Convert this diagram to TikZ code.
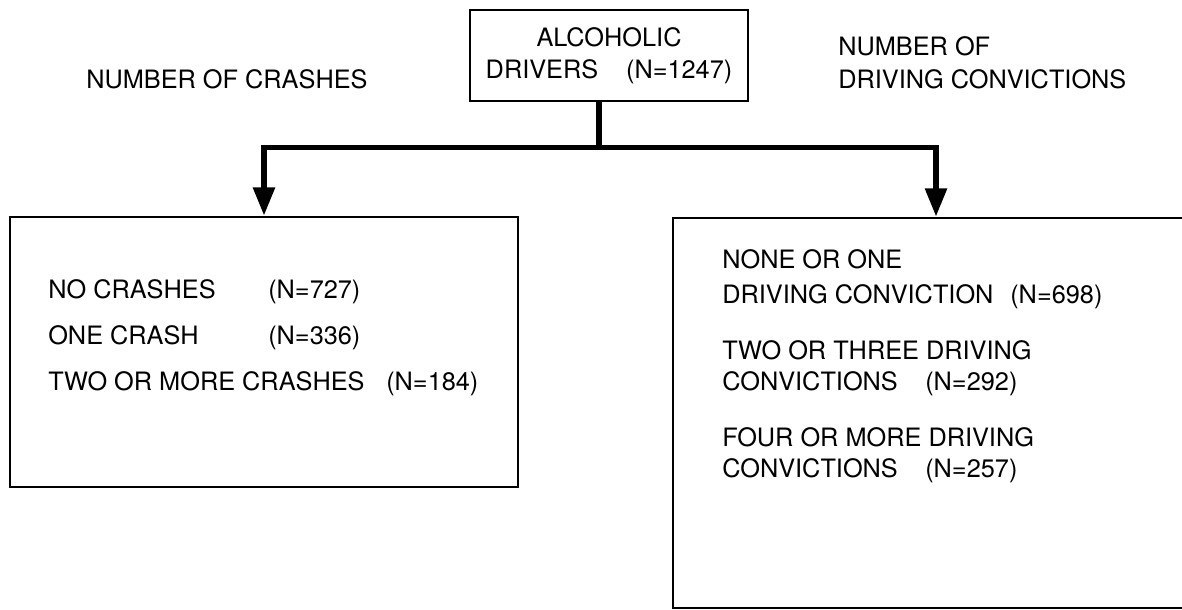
\documentclass[tikz,border=0pt]{standalone}
\usepackage{fontspec}
\setmainfont{TeX Gyre Heros}
\usetikzlibrary{arrows.meta,calc,positioning}

\begin{document}
\begin{tikzpicture}[x=0.025cm,y=-0.025cm,
    box/.style={draw,line width=2pt,inner sep=0pt,align=center,
      font=\fontsize{18}{23}\selectfont},
    flow/.style={line width=3.8pt,line join=miter,
      -{Triangle[width=15pt,length=20pt]}},
    lbl/.style={anchor=base west,inner sep=0pt,
      font=\fontsize{18}{23}\selectfont}]
  \useasboundingbox (0,0) rectangle (1182,610);
  % Define boxes
  \node[box,minimum width=6.95cm,minimum height=2.275cm] (drivers) at (609,55.5)
    {ALCOHOLIC\\DRIVERS\hspace{1.1em}(N=1247)};
  \node[box,minimum width=12.7cm,minimum height=6.75cm] (crashes) at (264,352) {};
  \node[box,minimum width=13.15cm,minimum height=9.75cm] (convict) at (936,413) {};
  % Branch point
  \coordinate (split) at ($(drivers.south)+(-10,45)$);
  % Connect the boxes
  \draw[flow] (drivers.south -| split) -- (split) -| (crashes.north);
  \draw[flow] (drivers.south -| split) -- (split) -| (convict.north);
  % Label the branches
  \node[lbl] (crashHead) at (86,89) {NUMBER OF CRASHES};
  \node[lbl] (convHead) at (838,56) {NUMBER OF};
  \node[lbl] (convHeadB) at (838,89) {DRIVING CONVICTIONS};
  % Crash groups
  \node[lbl] (noCrash) at (48,298) {NO CRASHES};
  \node[lbl] (noCrashN) at (268,298) {(N=727)};
  \node[lbl] (oneCrash) at (48,344) {ONE CRASH};
  \node[lbl] (oneCrashN) at (268,344) {(N=336)};
  \node[lbl] (twoCrash) at (48,390) {TWO OR MORE CRASHES};
  \node[lbl] (twoCrashN) at (386,390) {(N=184)};
  % Conviction groups
  \node[lbl] (oneConv) at (722,268) {NONE OR ONE};
  \node[lbl] (oneConvB) at (722,303) {DRIVING CONVICTION};
  \node[lbl] (oneConvN) at (1010,303) {(N=698)};
  \node[lbl] (twoConv) at (722,359) {TWO OR THREE DRIVING};
  \node[lbl] (twoConvB) at (722,390) {CONVICTIONS};
  \node[lbl] (twoConvN) at (925,390) {(N=292)};
  \node[lbl] (fourConv) at (722,446) {FOUR OR MORE DRIVING};
  \node[lbl] (fourConvB) at (722,477) {CONVICTIONS};
  \node[lbl] (fourConvN) at (925,477) {(N=257)};
\end{tikzpicture}
\end{document}
